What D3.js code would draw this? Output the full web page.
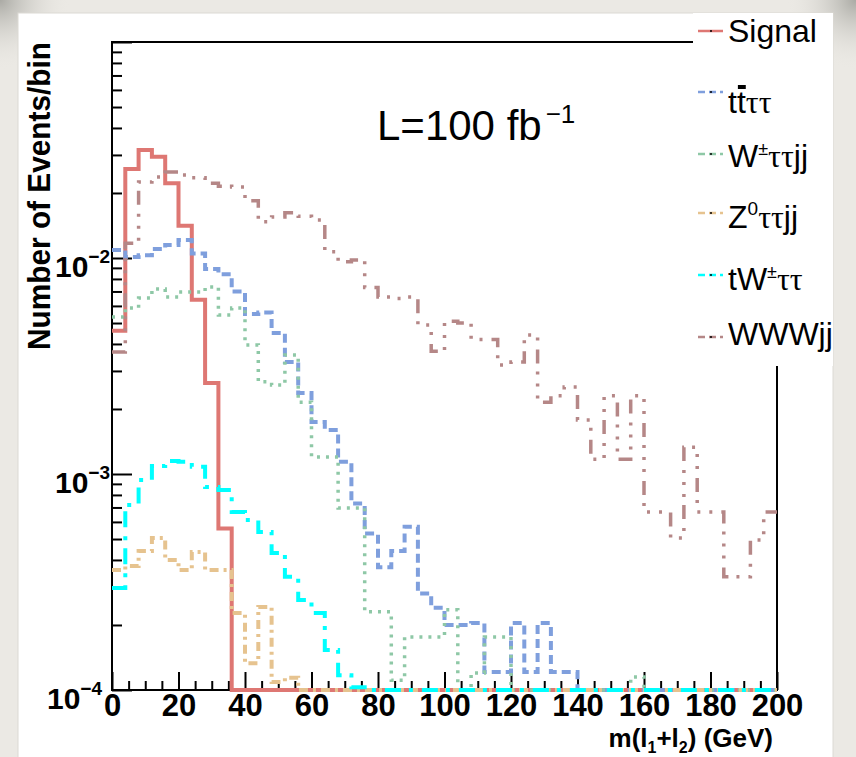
<!DOCTYPE html>
<html>
<head>
<meta charset="utf-8">
<script src="https://cdn.jsdelivr.net/npm/d3@7"></script>
<style>
  html, body { margin: 0; padding: 0; background: #ebe9e4; }
  svg { display: block; font-family: "Liberation Sans", Arial, Helvetica, sans-serif; }
</style>
</head>
<body>
<svg id="chart" width="856" height="757"></svg>
<script>
// 50 bins of 4 GeV in m(l1+l2)
const binWidth = 4;
const nBins = 50;
const binEdges = d3.range(nBins + 1).map(i => i * binWidth);

const signal = [0.0046, 0.0258, 0.0316, 0.0294, 0.0222, 0.0141, 0.0064, 0.00264, 0.00056, 0,
  0, 0, 0, 0, 0, 0, 0, 0, 0, 0,
  0, 0, 0, 0, 0, 0, 0, 0, 0, 0,
  0, 0, 0, 0, 0, 0, 0, 0, 0, 0,
  0, 0, 0, 0, 0, 0, 0, 0, 0, 0];

const ttbar = [0.0109, 0.0101, 0.0103, 0.0110, 0.0115, 0.0121, 0.0105, 0.0089, 0.0084, 0.0070,
  0.0055, 0.0056, 0.0045, 0.0033, 0.00237, 0.00174, 0.0016, 0.00114, 0.00073, 0.00053,
  0.00037, 0.00044, 0.00057, 0.00028, 0.00024, 0.0002, 0.0002, 0.000204, 0.000121, 0.000121,
  0.000204, 0.000121, 0.000204, 0.000121, 0.000121, 0, 0, 0, 0, 0,
  0, 0, 0, 0, 0, 0, 0, 0, 0, 0];

const wttjj = [0.00533, 0.00587, 0.00653, 0.00718, 0.0066, 0.00696, 0.00696, 0.00734, 0.00545, 0.00587,
  0.00396, 0.00267, 0.00258, 0.00356, 0.00215, 0.0012, 0.0012, 0.000696, 0.000696, 0.00023,
  0.00023, 0.000111, 0.000176, 0.000176, 0.000176, 0.000235, 0, 0.00012, 0.000176, 0.000176,
  0, 0, 0, 0, 0, 0, 0, 0, 0, 0.000115,
  0, 0, 0, 0, 0, 0, 0, 0, 0, 0];

const zttjj = [0.000359, 0.000375, 0.00044, 0.000506, 0.0004, 0.000359, 0.000435, 0.000359, 0.000359, 0.000227,
  0.000133, 0.000242, 0.000109, 0.000114, 0, 0, 0, 0, 0, 0,
  0, 0, 0, 0, 0, 0, 0, 0, 0, 0,
  0, 0, 0, 0, 0, 0, 0, 0, 0, 0,
  0, 0, 0, 0, 0, 0, 0, 0, 0, 0];

const twtt = [0.000297, 0.000718, 0.000938, 0.00109, 0.00115, 0.00114, 0.00108, 0.000871, 0.000843, 0.000667,
  0.000612, 0.000539, 0.000431, 0.000334, 0.000261, 0.000227, 0.000153, 0.000117, 0.000103, 0,
  0, 0, 0, 0, 0, 0, 0, 0, 0, 0,
  0, 0, 0, 0, 0, 0, 0, 0, 0, 0,
  0, 0, 0, 0, 0, 0, 0, 0, 0, 0];

const wwwjj = [0.00367, 0.0117, 0.0225, 0.0237, 0.025, 0.0242, 0.0235, 0.0222, 0.0215, 0.0213,
  0.0184, 0.0147, 0.0155, 0.0162, 0.0156, 0.015, 0.0107, 0.0096, 0.0098, 0.0073,
  0.0066, 0.0065, 0.0066, 0.0049, 0.0037, 0.0051, 0.005, 0.0042, 0.0042, 0.0032,
  0.0033, 0.0044, 0.00215, 0.0023, 0.00253, 0.00178, 0.00117, 0.0023, 0.00117, 0.0023,
  0.000667, 0.000667, 0.000505, 0.00133, 0.000667, 0.000667, 0.000334, 0.000334, 0.000495, 0.000667];

const xTickValues = d3.range(0, 201, 5);
const yMin = 1e-4, yMax = 0.1;
const yMajorTicks = [1e-4, 1e-3, 1e-2];
const yExponents = [-4, -3, -2];

const svg = d3.select('#chart');
const W = 856, H = 757;
const margin = { left: 112, right: 79, top: 42, bottom: 67 };

// page: light border, white panel
svg.append('rect').attr('width', W).attr('height', H).attr('fill', '#ebe9e4');
const defs = svg.append('defs');
const rg = defs.append('radialGradient').attr('id', 'corner');
rg.append('stop').attr('offset', '0%').attr('stop-color', '#9a9a94').attr('stop-opacity', 0.8);
rg.append('stop').attr('offset', '100%').attr('stop-color', '#ebe9e4').attr('stop-opacity', 0);
svg.append('circle').attr('cx', 0).attr('cy', 0).attr('r', 70).attr('fill', 'url(#corner)');
svg.append('circle').attr('cx', W).attr('cy', 0).attr('r', 70).attr('fill', 'url(#corner)');
svg.append('rect').attr('x', 18).attr('y', 13).attr('width', 815).attr('height', H)
    .attr('fill', '#ffffff').attr('stroke', '#dcdad4').attr('stroke-width', 1);

const x = d3.scaleLinear().domain([0, 200]).range([margin.left, W - margin.right]);
const y = d3.scaleLog().domain([yMin, yMax]).range([H - margin.bottom, margin.top]).clamp(true);

// frame
svg.append('rect')
    .attr('x', x(0)).attr('y', y(yMax))
    .attr('width', x(200) - x(0)).attr('height', y(yMin) - y(yMax))
    .attr('fill', 'none').attr('stroke', '#000').attr('stroke-width', 2);

// x axis ticks (inside)
const xAxis = svg.append('g')
    .attr('transform', `translate(0,${y(yMin)})`)
    .call(d3.axisBottom(x).tickValues(xTickValues).tickSizeInner(-18).tickSizeOuter(0).tickPadding(4)
        .tickFormat(d => d % 20 === 0 ? d : ''));
xAxis.select('.domain').remove();
xAxis.selectAll('.tick line')
    .attr('stroke', '#000').attr('stroke-width', 2)
    .attr('y2', d => d % 20 === 0 ? -18 : -9);
xAxis.selectAll('.tick text')
    .attr('fill', '#000').attr('font-size', 31).attr('font-weight', 'bold')
    .attr('font-family', '"Liberation Sans", Arial, sans-serif');

// y axis ticks (log, inside)
const yTickValues = [];
for (let e = -4; e < -1; e++) {
  for (let m = 1; m <= 9; m++) yTickValues.push(m * Math.pow(10, e));
}
yTickValues.push(yMax);
const yAxis = svg.append('g')
    .attr('transform', `translate(${x(0)},0)`)
    .call(d3.axisLeft(y).tickValues(yTickValues).tickSizeInner(-20).tickSizeOuter(0).tickFormat(''));
yAxis.select('.domain').remove();
yAxis.selectAll('.tick line')
    .attr('stroke', '#000').attr('stroke-width', 2)
    .attr('x2', d => {
      const r = d / Math.pow(10, Math.round(Math.log10(d)));
      return Math.abs(r - 1) < 1e-6 ? 20 : 10;
    });

// y tick labels 10^n (lowest one nudged left to clear the "0")
yMajorTicks.forEach((v, i) => {
  const t = svg.append('text')
      .attr('x', i === 0 ? 102 : 110).attr('y', y(v) + 19)
      .attr('text-anchor', 'end').attr('font-weight', 'bold').attr('fill', '#000');
  t.append('tspan').attr('font-size', 30).text('10');
  t.append('tspan').attr('font-size', 19).attr('dy', -14).text('\u2212' + Math.abs(yExponents[i]));
});

// axis titles
svg.append('text')
    .attr('transform', 'rotate(-90)')
    .attr('x', -350).attr('y', 50)
    .attr('font-size', 31).attr('font-weight', 'bold').attr('fill', '#000')
    .attr('textLength', 308).attr('lengthAdjust', 'spacingAndGlyphs')
    .text('Number of Events/bin');

const xt = svg.append('text')
    .attr('x', 773).attr('y', 747)
    .attr('text-anchor', 'end').attr('font-size', 26).attr('font-weight', 'bold').attr('fill', '#000');
xt.append('tspan').text('m(l');
xt.append('tspan').attr('font-size', 16).attr('dy', 6).text('1');
xt.append('tspan').attr('dy', -6).text('+l');
xt.append('tspan').attr('font-size', 16).attr('dy', 6).text('2');
xt.append('tspan').attr('dy', -6).text(') (GeV)');

// luminosity label
const lum = svg.append('text')
    .attr('x', 377).attr('y', 140).attr('font-size', 42).attr('fill', '#000');
lum.append('tspan').text('L=100 fb');
lum.append('tspan').attr('font-size', 26).attr('dy', -17).attr('dx', 4).text('\u22121');

// histograms
const styles = [
  { data: signal, color: '#de7773', width: 4, dash: null },
  { data: ttbar, color: '#7f9fdd', width: 4, dash: '9,5' },
  { data: wttjj, color: '#8ec8a6', width: 3.5, dash: '3,6' },
  { data: zttjj, color: '#e6c38f', width: 4, dash: '9,5,3,5' },
  { data: twtt, color: '#00ffff', width: 4, dash: '16,8,4,9' },
  { data: wwwjj, color: '#b58787', width: 3.5, dash: '14,8,3,9,3,9,3,9' }
];

const line = d3.line()
    .x(d => x(d[0]))
    .y(d => y(Math.max(d[1], yMin)))
    .curve(d3.curveStepAfter);

styles.forEach(s => {
  const pts = s.data.map((v, i) => [binEdges[i], v]);
  pts.push([binEdges[nBins], s.data[nBins - 1]]);
  svg.append('path')
      .attr('d', line(pts))
      .attr('fill', 'none')
      .attr('stroke', s.color)
      .attr('stroke-width', s.width)
      .attr('stroke-dasharray', s.dash);
});

// legend box covers frame corner
svg.append('rect').attr('x', 693).attr('y', 13).attr('width', 140).attr('height', 353).attr('fill', '#fff');

const legendRows = [
  { s: styles[0], lineY: 31, textY: 42 },
  { s: styles[1], lineY: 92, textY: 113 },
  { s: styles[2], lineY: 154, textY: 167 },
  { s: styles[3], lineY: 213, textY: 228 },
  { s: styles[4], lineY: 275, textY: 290 },
  { s: styles[5], lineY: 337, textY: 345 }
];

legendRows.forEach((r, i) => {
  svg.append('line')
      .attr('x1', 698).attr('x2', 723).attr('y1', r.lineY).attr('y2', r.lineY)
      .attr('stroke', r.s.color).attr('stroke-width', 2.5)
      .attr('stroke-dasharray', r.s.dash ? '7,4' : null);
  svg.append('circle').attr('cx', 711).attr('cy', r.lineY).attr('r', 1).attr('fill', '#000');

  const t = svg.append('text').attr('x', 728).attr('y', r.textY)
      .attr('font-size', 32).attr('fill', '#000');
  const tau = sel => sel.append('tspan').attr('font-family', '"Liberation Serif", "DejaVu Serif", serif').text('\u03c4\u03c4');
  if (i === 0) {
    t.text('Signal');
  } else if (i === 1) {
    t.append('tspan').text('tt');
    tau(t);
    const n = t.node();
    const x0 = n.getStartPositionOfChar(1).x, x1 = n.getEndPositionOfChar(1).x;
    svg.append('rect').attr('x', x0 + 1).attr('y', r.textY - 28).attr('width', x1 - x0 - 1).attr('height', 4).attr('fill', '#000');
  } else if (i === 2) {
    t.append('tspan').text('W');
    t.append('tspan').attr('font-size', 18).attr('dy', -12).text('\u00b1');
    tau(t).attr('dy', 12);
    t.append('tspan').text('jj');
  } else if (i === 3) {
    t.append('tspan').text('Z');
    t.append('tspan').attr('font-size', 19).attr('dy', -13).text('0');
    tau(t).attr('dy', 13);
    t.append('tspan').text('jj');
  } else if (i === 4) {
    t.append('tspan').text('tW');
    t.append('tspan').attr('font-size', 18).attr('dy', -12).text('\u00b1');
    tau(t).attr('dy', 12);
  } else {
    t.text('WWWjj');
  }
});
</script>
</body>
</html>
